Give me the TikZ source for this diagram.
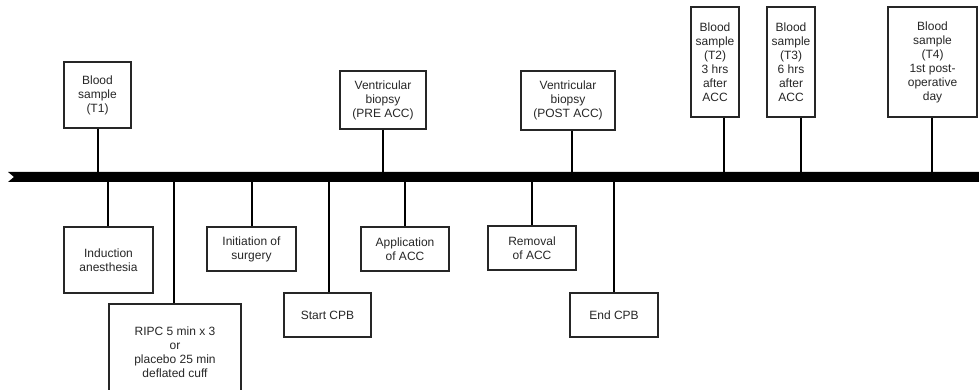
\documentclass[tikz,border=0pt]{standalone}
\usepackage{fontspec}
\setmainfont{Liberation Sans}
\begin{document}
\begin{tikzpicture}[x=1pt,y=-1pt,
    box/.style={draw=black!85,line width=1.2pt,inner sep=0pt,align=center,
      text=black!85,font=\fontsize{12}{14}\selectfont},
    stem/.style={line width=2.8pt}]
  \useasboundingbox (0,0) rectangle (979,390);
  \clip (0,0) rectangle (979,390);
  % time line
  \fill (8,172) -- (979,172) -- (979,182) -- (8,182) -- (14,177) -- cycle;
  \coordinate (e1) at (98,177);
  \coordinate (e2) at (108,177);
  \coordinate (e3) at (174,177);
  \coordinate (e4) at (252,177);
  \coordinate (e5) at (329,177);
  \coordinate (e6) at (383,177);
  \coordinate (e7) at (405,177);
  \coordinate (e8) at (532,177);
  \coordinate (e9) at (572,177);
  \coordinate (e10) at (614,177);
  \coordinate (e11) at (724,177);
  \coordinate (e12) at (801,177);
  \coordinate (e13) at (932,177);
  % boxes above the line
  \node[box,minimum width=67,minimum height=66] (t1) at (97.5,95) {Blood\\sample\\(T1)};
  \node[box,minimum width=86,minimum height=58] (pre) at (383,100) {Ventricular\\biopsy\\(PRE ACC)};
  \node[box,minimum width=94,minimum height=59] (post) at (568,100.5) {Ventricular\\biopsy\\(POST ACC)};
  \node[box,minimum width=48,minimum height=110] (t2) at (715,62) {Blood\\sample\\(T2)\\3 hrs\\after\\ACC};
  \node[box,minimum width=48,minimum height=110] (t3) at (791,62) {Blood\\sample\\(T3)\\6 hrs\\after\\ACC};
  \node[box,minimum width=89,minimum height=110] (t4) at (932.5,62) {Blood\\sample\\(T4)\\1st post-\\operative\\day};
  % boxes below the line
  \node[box,minimum width=89,minimum height=66] (ind) at (108.5,260) {Induction\\anesthesia};
  \node[box,minimum width=132,minimum height=96] (ripc) at (175,352) {RIPC 5 min x 3\\or\\placebo 25 min\\deflated cuff};
  \node[box,minimum width=89,minimum height=44] (init) at (251.5,249) {Initiation of\\surgery};
  \node[box,minimum width=87,minimum height=44] (scpb) at (327.5,315) {Start CPB};
  \node[box,minimum width=88,minimum height=44] (app) at (405,249) {Application\\of ACC};
  \node[box,minimum width=88,minimum height=44] (rem) at (532,248) {Removal\\of ACC};
  \node[box,minimum width=88,minimum height=44] (ecpb) at (614,315) {End CPB};
  % stems up
  \draw[stem] (t1.south -| e1) -- (e1);
  \draw[stem] (pre.south -| e6) -- (e6);
  \draw[stem] (post.south -| e9) -- (e9);
  \draw[stem] (t2.south -| e11) -- (e11);
  \draw[stem] (t3.south -| e12) -- (e12);
  \draw[stem] (t4.south -| e13) -- (e13);
  % stems down
  \draw[stem] (e2) -- (e2 |- ind.north);
  \draw[stem] (e3) -- (e3 |- ripc.north);
  \draw[stem] (e4) -- (e4 |- init.north);
  \draw[stem] (e5) -- (e5 |- scpb.north);
  \draw[stem] (e7) -- (e7 |- app.north);
  \draw[stem] (e8) -- (e8 |- rem.north);
  \draw[stem] (e10) -- (e10 |- ecpb.north);
\end{tikzpicture}
\end{document}
